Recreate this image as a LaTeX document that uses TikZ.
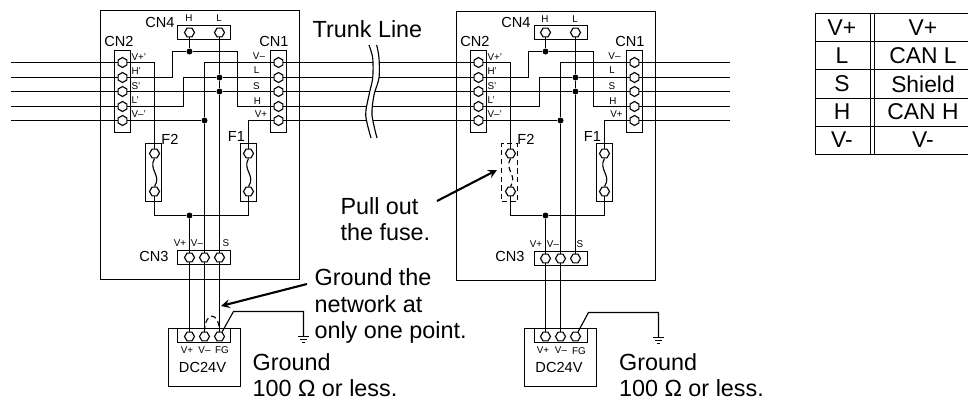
\documentclass[tikz,border=0pt]{standalone}
\usepackage{fontspec}
\setmainfont{Liberation Sans}
\usetikzlibrary{arrows}
\usetikzlibrary{shapes.geometric}
\tikzstyle{graph}=[x=0.02cm, y=-0.02cm, line width=0.65pt]
\tikzstyle{th}=[regular polygon, regular polygon sides=6, shape border rotate=90, inner sep=0pt, minimum size=0.2cm, draw, fill=white]
\tikzstyle{tv}=[regular polygon, regular polygon sides=6, inner sep=0pt, minimum size=0.2cm, draw, fill=white]
\tikzstyle{dot}=[circle, inner sep=0pt, minimum size=0.12cm, fill=black]
\tikzstyle{cnv}=[rectangle, draw, inner sep=0pt, minimum width=0.32cm, minimum height=1.64cm]
\tikzstyle{cnh}=[rectangle, draw, inner sep=0pt, minimum width=1.06cm, minimum height=0.28cm]
\tikzstyle{fuse}=[rectangle, draw, inner sep=0pt, minimum width=0.32cm, minimum height=1.16cm]
\tikzstyle{supply}=[rectangle, draw, inner sep=0pt, minimum width=1.44cm, minimum height=1.16cm]
\tikzstyle{big}=[inner sep=0pt, align=left, font=\fontsize{13.3}{15.1}\selectfont]
\tikzstyle{mid}=[inner sep=0pt, font=\fontsize{8.3}{10}\selectfont]
\tikzstyle{tiny}=[inner sep=0pt, font=\fontsize{5.6}{7}\selectfont]
\tikzstyle{cell}=[inner sep=0pt, font=\fontsize{13}{15}\selectfont]
\tikzstyle{rule}=[line width=0.9pt]
\tikzstyle{note}=[-stealth, line width=1.2pt]
\begin{document}
\begin{tikzpicture}[graph]
	\useasboundingbox (0,0) rectangle (968,400);
	% left board
	\draw (100.5,10.5) rectangle (299.5,279.5);
	\draw (122.5,91.5) node[cnv] (a2) {};
	\draw (278.5,91.5) node[cnv] (a1) {};
	\draw (204,32.5) node[cnh] (a4) {};
	\draw (204,257.5) node[cnh] (a3) {};
	\draw (153.5,172.5) node[fuse] (af2) {};
	\draw (248.5,172.5) node[fuse] (af1) {};
	\draw (204.5,357.5) node[supply] (ap) {};
	\draw (204,335.5) node[cnh] (apc) {};
	%
	\draw (122.5,62.5) node[th] (a2vp) {};
	\draw (122.5,77.5) node[th] (a2h) {};
	\draw (122.5,91.5) node[th] (a2s) {};
	\draw (122.5,106.5) node[th] (a2l) {};
	\draw (122.5,120.5) node[th] (a2vm) {};
	\draw (278.5,62.5) node[th] (a1vm) {};
	\draw (278.5,77.5) node[th] (a1l) {};
	\draw (278.5,91.5) node[th] (a1s) {};
	\draw (278.5,106.5) node[th] (a1h) {};
	\draw (278.5,120.5) node[th] (a1vp) {};
	\draw (189.5,32.5) node[tv] (a4h) {};
	\draw (219.5,32.5) node[tv] (a4l) {};
	\draw (189.5,257.5) node[tv] (a3vp) {};
	\draw (204.5,257.5) node[tv] (a3vm) {};
	\draw (219.5,257.5) node[tv] (a3s) {};
	\draw (189.5,336.5) node[tv] (apvp) {};
	\draw (204.5,336.5) node[tv] (apvm) {};
	\draw (219.5,336.5) node[tv] (apfg) {};
	\draw (154.5,153.5) node[tv] (af2t) {};
	\draw (154.5,191.5) node[tv] (af2b) {};
	\draw (248.5,153.5) node[tv] (af1t) {};
	\draw (248.5,191.5) node[tv] (af1b) {};
	%
	\draw (189.5,51.5) node[dot] (adh) {};
	\draw (219.5,77.5) node[dot] (adl) {};
	\draw (219.5,91.5) node[dot] (ads) {};
	\draw (204.5,120.5) node[dot] (advm) {};
	\draw (189.5,215.5) node[dot] (advp) {};
	\coordinate (ahl) at (172.5,51.5);
	\coordinate (ahr) at (237.5,51.5);
	\coordinate (all) at (183.5,77.5);
	\coordinate (agk) at (233.5,311.5);
	\coordinate (age) at (303.5,311.5);
	\coordinate (ag) at (303.5,336.5);
	%
	\draw (a2vp) -| (af2t);
	\draw (a2h) -| (ahl) -- (adh) -- (ahr) |- (a1h);
	\draw (a2s) -- (ads) -- (a1s);
	\draw (a2l) -| (all) -- (adl) -- (a1l);
	\draw (a2vm) -- (advm);
	\draw (a1vm) -| (advm) -- (a3vm);
	\draw (a1vp) -| (af1t);
	\draw (a4h) -- (adh);
	\draw (a4l) -- (adl) -- (ads) -- (a3s);
	\draw (af2b) |- (advp) -| (af1b);
	\draw (advp) -- (a3vp);
	\draw (a3vp) -- (apvp);
	\draw (a3vm) -- (apvm);
	\draw (a3s) -- (apfg);
	\draw (apfg) -- (agk) -- (age) -- (ag);
	\draw[densely dashed] (apvm.north) .. controls (205,311) and (219,311) .. (apfg.north);
	\draw (af2t.south) .. controls (148,170) and (162,175) .. (af2b.north);
	\draw (af1t.south) .. controls (242,170) and (256,175) .. (af1b.north);
	\draw (298,336.5) -- (309,336.5);
	\draw (300,339.5) -- (307,339.5);
	\draw (302,342.5) -- (305,342.5);
	%
	\draw (119,41.5) node[mid] (a2n) {CN2};
	\draw (274,41.5) node[mid] (a1n) {CN1};
	\draw (160,22) node[mid] (a4n) {CN4};
	\draw (154,256) node[mid] (a3n) {CN3};
	\draw (170,139) node[mid] (af2n) {F2};
	\draw (236.5,136) node[mid] (af1n) {F1};
	\draw (202.5,367) node[mid] (apn) {DC24V};
	\draw (189,18.5) node[tiny] (a4hn) {H};
	\draw (219,18.5) node[tiny] (a4ln) {L};
	\draw (131,57) node[tiny, anchor=west] (a2vpn) {V+'};
	\draw (131,71) node[tiny, anchor=west] (a2hn) {H'};
	\draw (131,86) node[tiny, anchor=west] (a2sn) {S'};
	\draw (131,100) node[tiny, anchor=west] (a2ln) {L'};
	\draw (131,114.5) node[tiny, anchor=west] (a2vmn) {V–'};
	\draw (259,56) node[tiny] (a1vmn) {V–};
	\draw (256.5,70) node[tiny] (a1ln) {L};
	\draw (256.5,86) node[tiny] (a1sn) {S};
	\draw (257.5,101) node[tiny] (a1hn) {H};
	\draw (261,114.5) node[tiny] (a1vpn) {V+};
	\draw (180,243.5) node[tiny] (a3vpn) {V+};
	\draw (197,243.5) node[tiny] (a3vmn) {V–};
	\draw (226,243.5) node[tiny] (a3sn) {S};
	\draw (187,350) node[tiny] (apvpn) {V+};
	\draw (204.5,350) node[tiny] (apvmn) {V–};
	\draw (222,350) node[tiny] (apfgn) {FG};
	\draw (252,375) node[big, anchor=west] (agn) {Ground\\100 Ω or less.};
	\draw (314,306) node[big, anchor=west] (an) {Ground the\\network at\\only one point.};
	\coordinate (ant) at (307,284);
	\coordinate (anh) at (221,306);
	\draw[note] (ant) -- (anh);
	%
	% right board
	\draw (456.5,11.5) rectangle (655.5,280.5);
	\draw (478.5,91.5) node[cnv] (b2) {};
	\draw (634.5,91.5) node[cnv] (b1) {};
	\draw (561,32.5) node[cnh] (b4) {};
	\draw (561,258.5) node[cnh] (b3) {};
	\draw (509.5,172.5) node[fuse, densely dashed] (bf2) {};
	\draw (604.5,172.5) node[fuse] (bf1) {};
	\draw (560.5,357.5) node[supply] (bp) {};
	\draw (561,335.5) node[cnh] (bpc) {};
	%
	\draw (478.5,62.5) node[th] (b2vp) {};
	\draw (478.5,77.5) node[th] (b2h) {};
	\draw (478.5,91.5) node[th] (b2s) {};
	\draw (478.5,106.5) node[th] (b2l) {};
	\draw (478.5,120.5) node[th] (b2vm) {};
	\draw (634.5,62.5) node[th] (b1vm) {};
	\draw (634.5,77.5) node[th] (b1l) {};
	\draw (634.5,91.5) node[th] (b1s) {};
	\draw (634.5,106.5) node[th] (b1h) {};
	\draw (634.5,120.5) node[th] (b1vp) {};
	\draw (545.5,32.5) node[tv] (b4h) {};
	\draw (575.5,32.5) node[tv] (b4l) {};
	\draw (545.5,258.5) node[tv] (b3vp) {};
	\draw (560.5,258.5) node[tv] (b3vm) {};
	\draw (575.5,258.5) node[tv] (b3s) {};
	\draw (545.5,336.5) node[tv] (bpvp) {};
	\draw (560.5,336.5) node[tv] (bpvm) {};
	\draw (575.5,336.5) node[tv] (bpfg) {};
	\draw (510.5,153.5) node[tv] (bf2t) {};
	\draw (510.5,191.5) node[tv] (bf2b) {};
	\draw (604.5,153.5) node[tv] (bf1t) {};
	\draw (604.5,191.5) node[tv] (bf1b) {};
	%
	\draw (545.5,51.5) node[dot] (bdh) {};
	\draw (575.5,77.5) node[dot] (bdl) {};
	\draw (575.5,91.5) node[dot] (bds) {};
	\draw (560.5,120.5) node[dot] (bdvm) {};
	\draw (545.5,215.5) node[dot] (bdvp) {};
	\coordinate (bhl) at (528.5,51.5);
	\coordinate (bhr) at (593.5,51.5);
	\coordinate (bll) at (539.5,77.5);
	\coordinate (bgk) at (588.5,312.5);
	\coordinate (bge) at (658.5,312.5);
	\coordinate (bg) at (658.5,337.5);
	%
	\draw (b2vp) -| (bf2t);
	\draw (b2h) -| (bhl) -- (bdh) -- (bhr) |- (b1h);
	\draw (b2s) -- (bds) -- (b1s);
	\draw (b2l) -| (bll) -- (bdl) -- (b1l);
	\draw (b2vm) -- (bdvm);
	\draw (b1vm) -| (bdvm) -- (b3vm);
	\draw (b1vp) -| (bf1t);
	\draw (b4h) -- (bdh);
	\draw (b4l) -- (bdl) -- (bds) -- (b3s);
	\draw (bf2b) |- (bdvp) -| (bf1b);
	\draw (bdvp) -- (b3vp);
	\draw (b3vp) -- (bpvp);
	\draw (b3vm) -- (bpvm);
	\draw (bpfg) -- (bgk) -- (bge) -- (bg);
	\draw[densely dashed] (bf2t.south) .. controls (504,170) and (518,175) .. (bf2b.north);
	\draw (bf1t.south) .. controls (598,170) and (612,175) .. (bf1b.north);
	\draw (653,337.5) -- (664,337.5);
	\draw (655,340.5) -- (662,340.5);
	\draw (657,343.5) -- (660,343.5);
	%
	\draw (475,41.5) node[mid] (b2n) {CN2};
	\draw (630,41.5) node[mid] (b1n) {CN1};
	\draw (516,22.5) node[mid] (b4n) {CN4};
	\draw (510,256.5) node[mid] (b3n) {CN3};
	\draw (526,139) node[mid] (bf2n) {F2};
	\draw (592.5,136) node[mid] (bf1n) {F1};
	\draw (559,367.5) node[mid] (bpn) {DC24V};
	\draw (545,19) node[tiny] (b4hn) {H};
	\draw (575,19) node[tiny] (b4ln) {L};
	\draw (487,57) node[tiny, anchor=west] (b2vpn) {V+'};
	\draw (487,71) node[tiny, anchor=west] (b2hn) {H'};
	\draw (487,86) node[tiny, anchor=west] (b2sn) {S'};
	\draw (487,100) node[tiny, anchor=west] (b2ln) {L'};
	\draw (487,114.5) node[tiny, anchor=west] (b2vmn) {V–'};
	\draw (614.5,56) node[tiny] (b1vmn) {V–};
	\draw (612,70) node[tiny] (b1ln) {L};
	\draw (612,86) node[tiny] (b1sn) {S};
	\draw (613,101) node[tiny] (b1hn) {H};
	\draw (616.5,114.5) node[tiny] (b1vpn) {V+};
	\draw (536,244) node[tiny] (b3vpn) {V+};
	\draw (553,244) node[tiny] (b3vmn) {V–};
	\draw (580,244.5) node[tiny] (b3sn) {S};
	\draw (543,350) node[tiny] (bpvpn) {V+};
	\draw (561,350) node[tiny] (bpvmn) {V–};
	\draw (579,351) node[tiny] (bpfgn) {FG};
	\draw (618.5,375) node[big, anchor=west] (bgn) {Ground\\100 Ω or less.};
	\draw (340,219) node[big, anchor=west] (bn) {Pull out\\the fuse.};
	\coordinate (bnt) at (437,201);
	\coordinate (bnh) at (497,170);
	\draw[note] (bnt) -- (bnh);
	%
	% trunk line
	\coordinate (l1) at (11,62.5);
	\coordinate (l2) at (11,77.5);
	\coordinate (l3) at (11,91.5);
	\coordinate (l4) at (11,106.5);
	\coordinate (l5) at (11,120.5);
	\coordinate (r1) at (730,62.5);
	\coordinate (r2) at (730,77.5);
	\coordinate (r3) at (730,91.5);
	\coordinate (r4) at (730,106.5);
	\coordinate (r5) at (730,120.5);
	\draw (l1) -- (a2vp);
	\draw (l2) -- (a2h);
	\draw (l3) -- (a2s);
	\draw (l4) -- (a2l);
	\draw (l5) -- (a2vm);
	\draw (a1vm) -- (b2vp);
	\draw (a1l) -- (b2h);
	\draw (a1s) -- (b2s);
	\draw (a1h) -- (b2l);
	\draw (a1vp) -- (b2vm);
	\draw (b1vm) -- (r1);
	\draw (b1l) -- (r2);
	\draw (b1s) -- (r3);
	\draw (b1h) -- (r4);
	\draw (b1vp) -- (r5);
	\fill[white] plot[smooth] coordinates {(369,45) (372.7,58) (372.7,78) (369,95) (365.7,115) (371,138)} -- plot[smooth] coordinates {(377,138) (372,115) (374,95) (379,78) (379,58) (376.7,45)} -- cycle;
	\draw plot[smooth] coordinates {(369,45) (372.7,58) (372.7,78) (369,95) (365.7,115) (371,138)};
	\draw plot[smooth] coordinates {(376.7,45) (379,58) (379,78) (374,95) (372,115) (377,138)};
	\draw (367.5,29) node[big] (trunk) {Trunk Line};
	%
	% table
	\draw[rule] (815,13.5) -- (968,13.5);
	\draw[rule] (815,41.5) -- (968,41.5);
	\draw[rule] (815,69.5) -- (968,69.5);
	\draw[rule] (815,98.5) -- (968,98.5);
	\draw[rule] (815,126.5) -- (968,126.5);
	\draw[rule] (815,154.5) -- (968,154.5);
	\draw[rule] (815.5,13) -- (815.5,155);
	\draw[rule] (870.5,13) -- (870.5,155);
	\draw[rule] (874.5,13) -- (874.5,155);
	\draw (842,28) node[cell] (c11) {V+};
	\draw (842,56) node[cell] (c21) {L};
	\draw (842,84) node[cell] (c31) {S};
	\draw (842,112) node[cell] (c41) {H};
	\draw (842,140) node[cell] (c51) {V-};
	\draw (923,28) node[cell] (c12) {V+};
	\draw (923,56) node[cell] (c22) {CAN L};
	\draw (923,84) node[cell] (c32) {Shield};
	\draw (923,112) node[cell] (c42) {CAN H};
	\draw (923,140) node[cell] (c52) {V-};
\end{tikzpicture}
\end{document}
